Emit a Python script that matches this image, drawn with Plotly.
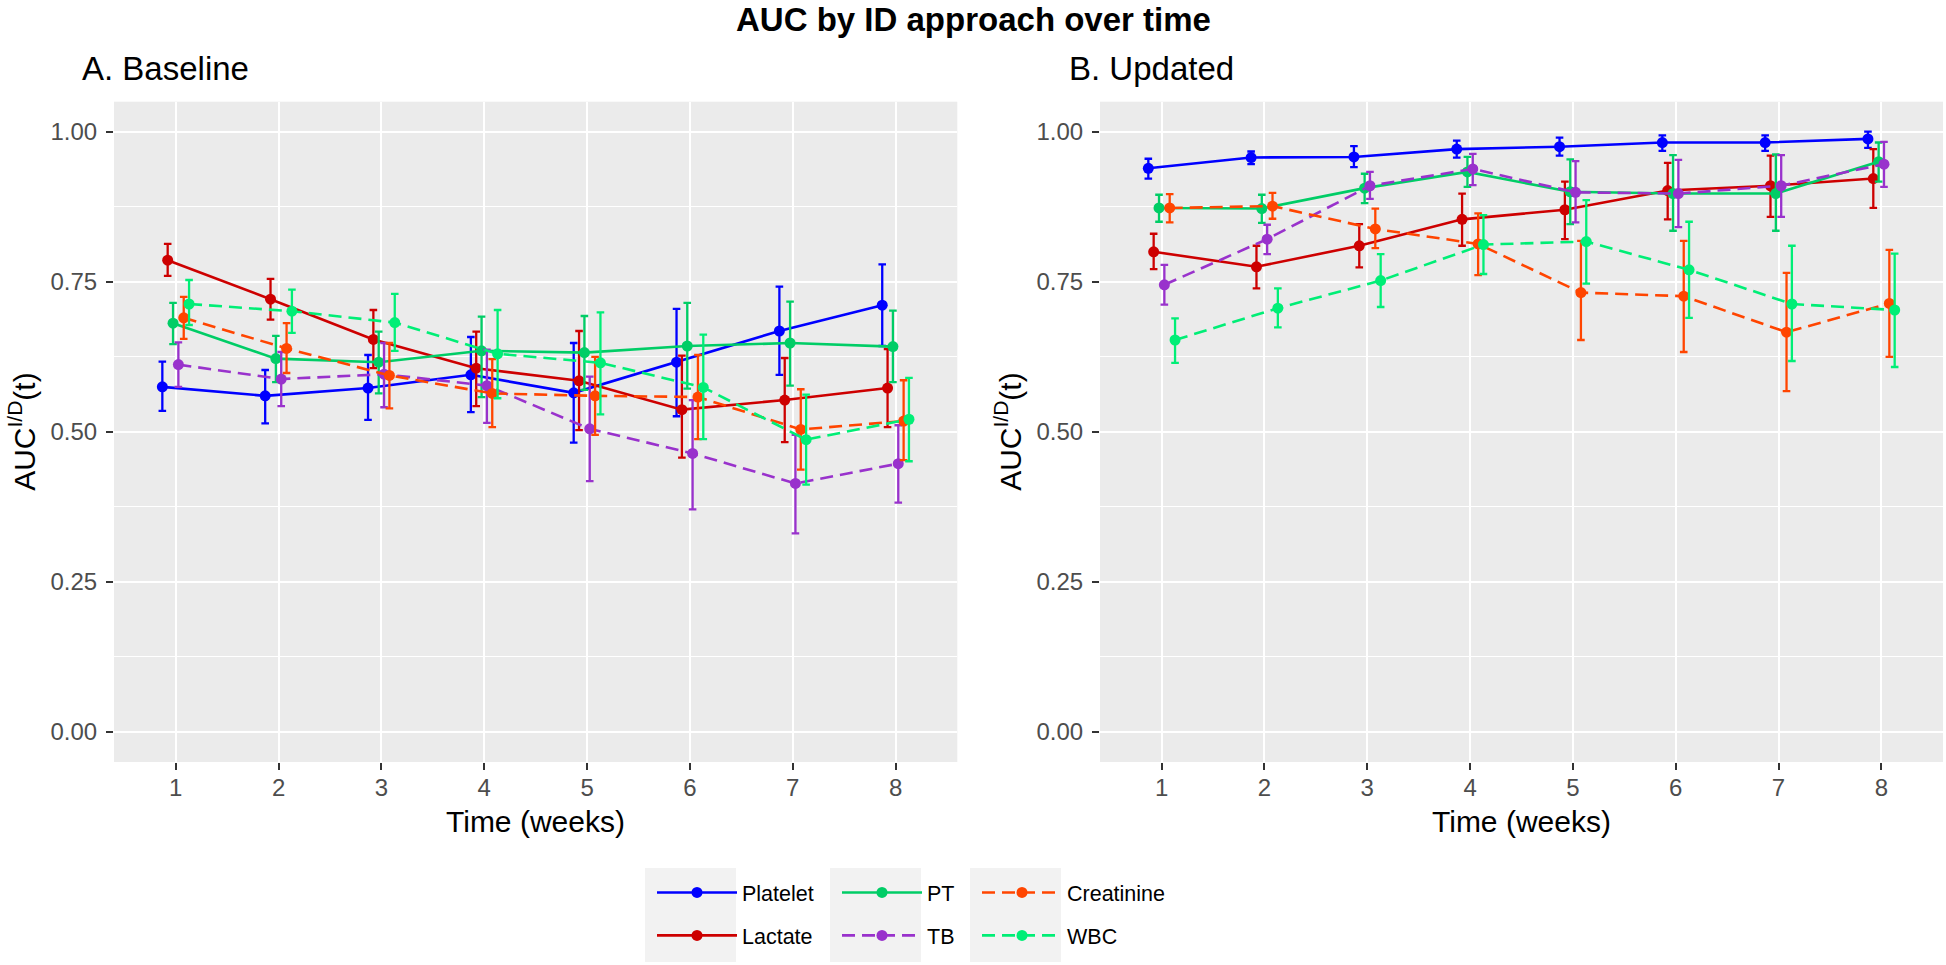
import plotly.graph_objects as go

# ---------------- data ----------------
weeks = [1, 2, 3, 4, 5, 6, 7, 8]
series = ["Platelet", "Lactate", "PT", "TB", "Creatinine", "WBC"]
y_ticks = [0.00, 0.25, 0.50, 0.75, 1.00]
y_tick_labels = ["0.00", "0.25", "0.50", "0.75", "1.00"]

# A. Baseline
platelet_base = [0.575, 0.560, 0.573, 0.595, 0.565, 0.616, 0.668, 0.711]
platelet_base_lo = [0.535, 0.514, 0.520, 0.533, 0.482, 0.526, 0.595, 0.643]
platelet_base_hi = [0.617, 0.603, 0.628, 0.658, 0.648, 0.705, 0.742, 0.779]

lactate_base = [0.786, 0.721, 0.654, 0.606, 0.585, 0.537, 0.553, 0.573]
lactate_base_lo = [0.760, 0.687, 0.606, 0.543, 0.503, 0.457, 0.483, 0.508]
lactate_base_hi = [0.813, 0.755, 0.703, 0.667, 0.668, 0.627, 0.623, 0.638]

pt_base = [0.681, 0.622, 0.616, 0.635, 0.632, 0.643, 0.648, 0.642]
pt_base_lo = [0.646, 0.583, 0.564, 0.558, 0.570, 0.572, 0.577, 0.583]
pt_base_hi = [0.715, 0.660, 0.667, 0.692, 0.693, 0.715, 0.717, 0.702]

tb_base = [0.612, 0.588, 0.596, 0.577, 0.505, 0.464, 0.414, 0.447]
tb_base_lo = [0.575, 0.543, 0.541, 0.515, 0.418, 0.371, 0.331, 0.382]
tb_base_hi = [0.649, 0.633, 0.648, 0.637, 0.592, 0.553, 0.495, 0.511]

creat_base = [0.690, 0.639, 0.594, 0.564, 0.560, 0.558, 0.504, 0.518]
creat_base_lo = [0.655, 0.598, 0.539, 0.508, 0.495, 0.488, 0.437, 0.453]
creat_base_hi = [0.725, 0.681, 0.648, 0.621, 0.625, 0.628, 0.571, 0.586]

wbc_base = [0.713, 0.701, 0.682, 0.630, 0.615, 0.574, 0.487, 0.521]
wbc_base_lo = [0.678, 0.665, 0.635, 0.556, 0.529, 0.488, 0.412, 0.451]
wbc_base_hi = [0.753, 0.737, 0.730, 0.703, 0.699, 0.662, 0.562, 0.590]

# B. Updated
platelet_upd = [0.939, 0.957, 0.958, 0.971, 0.975, 0.982, 0.982, 0.988]
platelet_upd_lo = [0.922, 0.946, 0.941, 0.957, 0.960, 0.968, 0.968, 0.973]
platelet_upd_hi = [0.955, 0.967, 0.976, 0.985, 0.990, 0.994, 0.994, 1.000]

lactate_upd = [0.800, 0.775, 0.810, 0.854, 0.870, 0.902, 0.910, 0.922]
lactate_upd_lo = [0.771, 0.739, 0.774, 0.810, 0.821, 0.854, 0.858, 0.873]
lactate_upd_hi = [0.830, 0.810, 0.846, 0.897, 0.917, 0.948, 0.960, 0.971]

pt_upd = [0.873, 0.872, 0.906, 0.933, 0.900, 0.897, 0.897, 0.950]
pt_upd_lo = [0.850, 0.848, 0.881, 0.908, 0.846, 0.835, 0.835, 0.917]
pt_upd_hi = [0.895, 0.895, 0.930, 0.958, 0.954, 0.961, 0.962, 0.982]

tb_upd = [0.745, 0.821, 0.910, 0.938, 0.899, 0.897, 0.910, 0.946]
tb_upd_lo = [0.712, 0.796, 0.888, 0.911, 0.849, 0.841, 0.858, 0.908]
tb_upd_hi = [0.778, 0.845, 0.933, 0.963, 0.951, 0.953, 0.961, 0.983]

creat_upd = [0.873, 0.876, 0.838, 0.813, 0.732, 0.726, 0.666, 0.714]
creat_upd_lo = [0.849, 0.855, 0.806, 0.761, 0.653, 0.633, 0.568, 0.625]
creat_upd_hi = [0.896, 0.898, 0.872, 0.864, 0.818, 0.818, 0.765, 0.803]

wbc_upd = [0.653, 0.706, 0.752, 0.812, 0.817, 0.770, 0.713, 0.703]
wbc_upd_lo = [0.615, 0.674, 0.708, 0.763, 0.747, 0.690, 0.618, 0.608]
wbc_upd_hi = [0.689, 0.739, 0.796, 0.861, 0.886, 0.850, 0.810, 0.797]

# ---------------- styling ----------------
colors = {"Platelet": "#0000FF", "Lactate": "#CD0000", "PT": "#00CD66",
          "TB": "#9932CC", "Creatinine": "#FF4500", "WBC": "#00EE76"}
dashes = {"Platelet": "solid", "Lactate": "solid", "PT": "solid",
          "TB": "13px,7px", "Creatinine": "13px,7px", "WBC": "13px,7px"}
legend_of = {"Platelet": "legend", "Lactate": "legend", "PT": "legend2",
             "TB": "legend2", "Creatinine": "legend3", "WBC": "legend3"}

baseline = {
    "Platelet": (platelet_base, platelet_base_lo, platelet_base_hi),
    "Lactate": (lactate_base, lactate_base_lo, lactate_base_hi),
    "PT": (pt_base, pt_base_lo, pt_base_hi),
    "TB": (tb_base, tb_base_lo, tb_base_hi),
    "Creatinine": (creat_base, creat_base_lo, creat_base_hi),
    "WBC": (wbc_base, wbc_base_lo, wbc_base_hi),
}
updated = {
    "Platelet": (platelet_upd, platelet_upd_lo, platelet_upd_hi),
    "Lactate": (lactate_upd, lactate_upd_lo, lactate_upd_hi),
    "PT": (pt_upd, pt_upd_lo, pt_upd_hi),
    "TB": (tb_upd, tb_upd_lo, tb_upd_hi),
    "Creatinine": (creat_upd, creat_upd_lo, creat_upd_hi),
    "WBC": (wbc_upd, wbc_upd_lo, wbc_upd_hi),
}

W, H = 1946, 965
FONT = "Liberation Sans, Arial, Helvetica, sans-serif"
DODGE = 0.052

fig = go.Figure()

for panel, (data, xa, ya) in enumerate([(baseline, "x", "y"), (updated, "x2", "y2")]):
    for i, name in enumerate(series):
        y, lo, hi = data[name]
        off = (i - 2.5) * DODGE
        xs = [w + off for w in weeks]
        fig.add_trace(go.Scatter(
            x=xs, y=y, xaxis=xa, yaxis=ya, name=name,
            mode="lines+markers",
            line=dict(color=colors[name], width=2.6, dash=dashes[name]),
            marker=dict(color=colors[name], size=11),
            error_y=dict(type="data", symmetric=False,
                         array=[h - v for h, v in zip(hi, y)],
                         arrayminus=[v - l for v, l in zip(y, lo)],
                         color=colors[name], thickness=2.3, width=3.8),
            showlegend=(panel == 0),
            legend=legend_of[name],
            legendgroup=name,
        ))

def px_x(p):
    return p / W

def px_y(p):
    return (H - p) / H

xdom1 = [px_x(114), px_x(957.3)]
xdom2 = [px_x(1100), px_x(1943)]
ydom = [px_y(762), px_y(101.7)]

axis_common_x = dict(
    range=[0.4, 8.6], tickmode="array", tickvals=weeks, ticktext=[str(w) for w in weeks],
    showgrid=True, gridcolor="white", gridwidth=1.8, zeroline=False, showline=False,
    ticks="outside", ticklen=7, tickwidth=1.8, tickcolor="#333333",
    tickfont=dict(family=FONT, size=24, color="#4D4D4D"), ticklabelstandoff=-3,
    fixedrange=True,
)
axis_common_y = dict(
    range=[-0.05, 1.05], tickmode="array", tickvals=y_ticks, ticktext=y_tick_labels,
    showgrid=True, gridcolor="white", gridwidth=1.8, zeroline=False, showline=False,
    ticks="outside", ticklen=7, tickwidth=1.8, tickcolor="#333333",
    tickfont=dict(family=FONT, size=24, color="#4D4D4D"), ticklabelstandoff=4,
    minor=dict(tickvals=[0.125, 0.375, 0.625, 0.875], showgrid=True,
               gridcolor="white", gridwidth=0.9, ticks=""),
    fixedrange=True,
)

fig.update_layout(
    width=W, height=H,
    margin=dict(l=0, r=0, t=0, b=0),
    paper_bgcolor="white", plot_bgcolor="#EBEBEB",
    font=dict(family=FONT, color="black"),
    xaxis=dict(domain=xdom1, anchor="y", **axis_common_x),
    yaxis=dict(domain=ydom, anchor="x", **axis_common_y),
    xaxis2=dict(domain=xdom2, anchor="y2", **axis_common_x),
    yaxis2=dict(domain=ydom, anchor="x2", **axis_common_y),
)

leg_common = dict(orientation="v", xanchor="left", yanchor="middle", y=px_y(914),
                  bgcolor="rgba(0,0,0,0)", borderwidth=0, itemwidth=80,
                  traceorder="grouped", tracegroupgap=12,
                  font=dict(family=FONT, size=21.5, color="black"))
fig.update_layout(
    legend=dict(x=px_x(652), **leg_common),
    legend2=dict(x=px_x(837), **leg_common),
    legend3=dict(x=px_x(977), **leg_common),
)

# grey legend key backgrounds
for left in [645, 830, 970]:
    fig.add_shape(type="rect", xref="paper", yref="paper",
                  x0=px_x(left), x1=px_x(left + 91), y0=px_y(962), y1=px_y(868),
                  fillcolor="#F2F2F2", line=dict(width=0), layer="above")

annotations = [
    dict(text="<b>AUC by ID approach over time</b>", x=0.5, y=1.0, xanchor="center",
         yanchor="top", borderpad=0, font=dict(size=33)),
    dict(text="A. Baseline", x=px_x(80), y=px_y(68), xanchor="left", yanchor="middle",
         font=dict(size=33)),
    dict(text="B. Updated", x=px_x(1067), y=px_y(68), xanchor="left", yanchor="middle",
         font=dict(size=33)),
    dict(text="Time (weeks)", x=(xdom1[0] + xdom1[1]) / 2, y=px_y(821), xanchor="center",
         yanchor="middle", font=dict(size=30)),
    dict(text="Time (weeks)", x=(xdom2[0] + xdom2[1]) / 2, y=px_y(821), xanchor="center",
         yanchor="middle", font=dict(size=30)),
    dict(text="AUC<sup>I/D</sup>(t)", x=px_x(22), y=(ydom[0] + ydom[1]) / 2, textangle=-90,
         xanchor="center", yanchor="middle", font=dict(size=30)),
    dict(text="AUC<sup>I/D</sup>(t)", x=px_x(1008), y=(ydom[0] + ydom[1]) / 2, textangle=-90,
         xanchor="center", yanchor="middle", font=dict(size=30)),
]
for a in annotations:
    a.update(xref="paper", yref="paper", showarrow=False)
    a["font"] = dict(family=FONT, color="black", **a["font"])
fig.update_layout(annotations=annotations)

fig.write_html("out.html", config={"displayModeBar": False},
               post_script="document.body.style.margin='0px'; document.body.style.overflow='hidden';")
